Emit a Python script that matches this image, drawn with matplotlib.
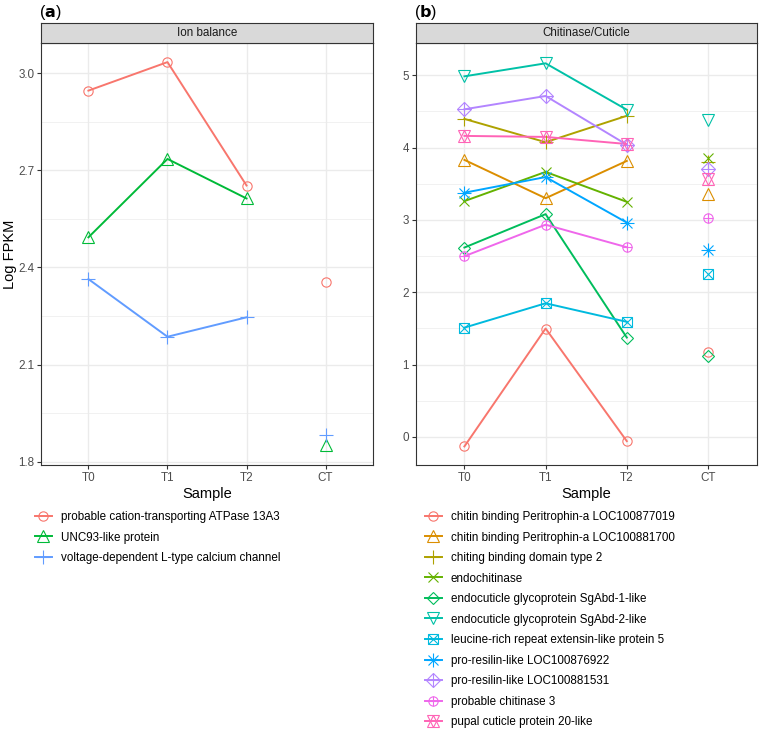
import numpy as np
import matplotlib
matplotlib.use('Agg')
import matplotlib.pyplot as plt
from matplotlib.lines import Line2D

plt.rcParams['font.family'] = ['Liberation Sans', 'DejaVu Sans']

# ---- data ----
samples = ['T0', 'T1', 'T2', 'CT']

ion_genes = ['probable cation-transporting ATPase 13A3',
             'UNC93-like protein',
             'voltage-dependent L-type calcium channel']
ion_values = [[2.946, 3.034, 2.653, 2.354],
              [2.493, 2.735, 2.613, 1.851],
              [2.364, 2.186, 2.246, 1.884]]
ion_colors = ['#F8766D', '#00BA38', '#619CFF']
ion_shapes = [1, 2, 3]

chit_genes = ['chitin binding Peritrophin-a LOC100877019',
              'chitin binding Peritrophin-a LOC100881700',
              'chiting binding domain type 2',
              'endochitinase',
              'endocuticle glycoprotein SgAbd-1-like',
              'endocuticle glycoprotein SgAbd-2-like',
              'leucine-rich repeat extensin-like protein 5',
              'pro-resilin-like LOC100876922',
              'pro-resilin-like LOC100881531',
              'probable chitinase 3',
              'pupal cuticle protein 20-like']
chit_values = [[-0.133, 1.498, -0.060, 1.174],
               [3.830, 3.300, 3.816, 3.355],
               [4.397, 4.075, 4.440, 3.800],
               [3.260, 3.664, 3.250, 3.850],
               [2.618, 3.080, 1.373, 1.115],
               [4.986, 5.166, 4.524, 4.382],
               [1.510, 1.847, 1.590, 2.245],
               [3.376, 3.593, 2.963, 2.580],
               [4.530, 4.714, 4.040, 3.700],
               [2.498, 2.934, 2.622, 3.030],
               [4.162, 4.148, 4.050, 3.560]]
chit_colors = ['#F8766D', '#DB8E00', '#AEA200', '#64B200', '#00BD5C', '#00C1A7',
               '#00BADE', '#00A6FF', '#B385FF', '#EF67EB', '#FF63B6']
chit_shapes = [1, 2, 3, 4, 5, 6, 7, 8, 9, 10, 11]

# R pch shapes built from matplotlib markers (marker, size)
SHAPES = {
    1: [('o', 6.7)],
    2: [('^', 8.5)],
    3: [('+', 9.5)],
    4: [('x', 6.7)],
    5: [('D', 5.9)],
    6: [('v', 8.5)],
    7: [('s', 6.7), ('x', 6.7)],
    8: [('+', 9.5), ('x', 6.7)],
    9: [('D', 6.7), ('+', 9.5)],
    10: [('o', 6.7), ('+', 6.7)],
    11: [('^', 8), ('v', 8)],
}

W, H = 760, 731
fig = plt.figure(figsize=(7.6, 7.31), dpi=100)


def draw_panel(px0, px1, title, letter, genes, values, colors, shapes,
               yticks, yminor, ylim, leg_x):
    py0, py1 = 43, 465
    ax = fig.add_axes([px0 / W, 1 - py1 / H, (px1 - px0) / W, (py1 - py0) / H])
    x = np.arange(len(samples))
    handles = []
    for g, vals, c, s in zip(genes, values, colors, shapes):
        vals = np.array(vals)
        ax.plot(x[:3], vals[:3], color=c, lw=1.4, zorder=3)
        parts = [Line2D([], [], color=c, lw=1.4)]
        for m, ms in SHAPES[s]:
            ax.plot(x, vals, ls='none', marker=m, ms=ms, mfc='none', mec=c,
                    mew=0.8, zorder=4)
            parts.append(Line2D([], [], ls='none', marker=m, ms=ms, mfc='none',
                                mec=c, mew=0.8))
        handles.append(tuple(parts))
    ax.set_xlim(-0.6, 3.6)
    ax.set_ylim(*ylim)
    ax.set_xticks(x)
    ax.set_xticklabels(samples)
    ax.set_yticks(yticks)
    ax.set_yticks(yminor, minor=True)
    ax.grid(True, which='major', color='#EBEBEB', lw=1.0, zorder=0)
    ax.grid(True, which='minor', axis='y', color='#EBEBEB', lw=0.5, zorder=0)
    ax.set_axisbelow(True)
    ax.tick_params(which='major', length=2.75, width=0.8, color='#333333',
                   labelsize=8.4, labelcolor='#4D4D4D', pad=2.2)
    ax.tick_params(which='minor', length=0)
    for sp in ax.spines.values():
        sp.set_color('#333333')
        sp.set_linewidth(0.8)
    ax.set_xlabel('Sample', fontsize=10.5, labelpad=2)

    # facet strip
    sax = fig.add_axes([px0 / W, 1 - py0 / H, (px1 - px0) / W, 20 / H])
    sax.set_facecolor('#D9D9D9')
    sax.set_xticks([])
    sax.set_yticks([])
    for sp in sax.spines.values():
        sp.set_color('#333333')
        sp.set_linewidth(0.8)
    sax.text(0.5, 0.5, title, ha='center', va='center', fontsize=8.4,
             color='#1A1A1A', transform=sax.transAxes)

    fig.text(px0 / W - 0.002, 1 - 12 / H, r'($\mathbf{' + letter + '}$)',
             fontsize=11.5, ha='left', va='center')

    fig.legend(handles, genes, loc='upper left',
               bbox_to_anchor=(leg_x / W, 1 - 511 / H), frameon=False,
               fontsize=8.4, handlelength=1.45, handletextpad=0.75,
               labelspacing=0.73, borderpad=0, borderaxespad=0)
    return ax


draw_panel(41, 373, 'Ion balance', 'a', ion_genes, ion_values, ion_colors,
           ion_shapes, [1.8, 2.1, 2.4, 2.7, 3.0],
           [1.95, 2.25, 2.55, 2.85], (1.790, 3.093), 35)
draw_panel(415.7, 756.7, 'Chitinase/Cuticle', 'b', chit_genes, chit_values,
           chit_colors, chit_shapes, [0, 1, 2, 3, 4, 5],
           [0.5, 1.5, 2.5, 3.5, 4.5], (-0.39, 5.447), 425)

fig.text(10 / W, 1 - 254 / H, 'Log FPKM', rotation=90, ha='center',
         va='center', fontsize=10.5)

fig.savefig('out.png', dpi=100)
